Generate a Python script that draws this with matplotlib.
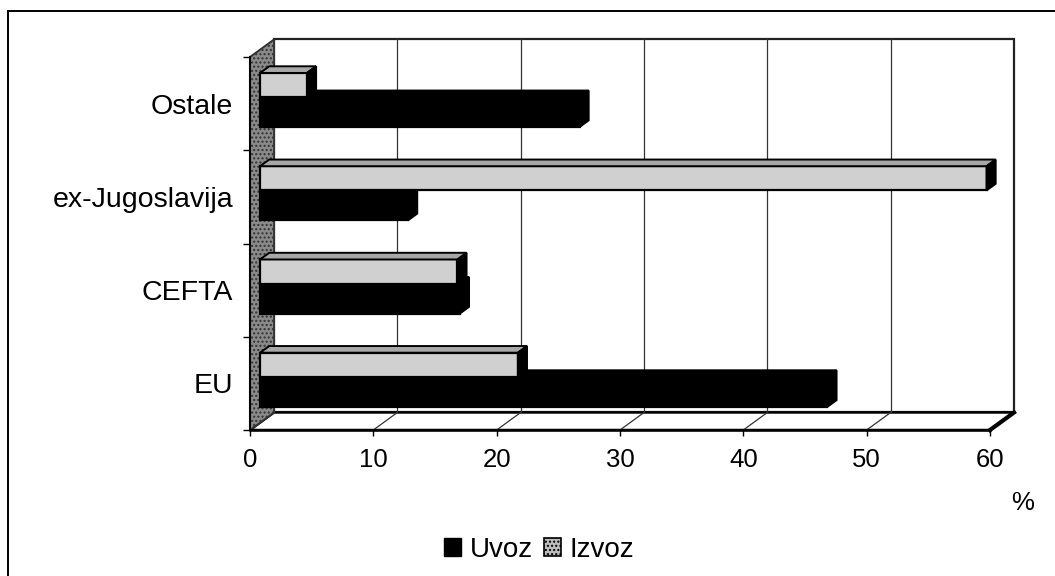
import matplotlib
matplotlib.use("Agg")
import matplotlib.pyplot as plt
from matplotlib.patches import Polygon, Rectangle
import numpy as np

plt.rcParams['font.family'] = ['Liberation Sans', 'DejaVu Sans']

categories = ["EU", "CEFTA", "ex-Jugoslavija", "Ostale"]
uvoz = [46.0, 16.2, 12.0, 25.9]
izvoz = [20.9, 16.0, 58.9, 3.8]
xticks = [0, 10, 20, 30, 40, 50, 60]
series_names = ["Uvoz", "Izvoz"]

W, H = 1055, 576
fig = plt.figure(figsize=(W / 100, H / 100), dpi=100)
ax = fig.add_axes([250 / W, 146 / H, 740 / W, 373 / H])
ax.set_xlim(0, 60)
ax.set_ylim(-0.5, 3.5)

# depth offsets (full depth) in data units
DX = 1.95
DY = 0.188
Z0, Z1 = 0.42, 0.80

def P(x, y, z):
    return (x + z * DX, y + z * DY)

wall_grey = '#8a8a8a'
light = '#d0d0d0'
light_top = '#a8a8a8'

# back wall
ax.add_patch(Polygon([P(0, -0.5, 1), P(60, -0.5, 1), P(60, 3.5, 1), P(0, 3.5, 1)],
                     closed=True, facecolor='white', edgecolor='#222222', lw=1.6,
                     clip_on=False, zorder=1))
# floor
ax.add_patch(Polygon([P(0, -0.5, 0), P(60, -0.5, 0), P(60, -0.5, 1), P(0, -0.5, 1)],
                     closed=True, facecolor='white', edgecolor='black', lw=1.8,
                     clip_on=False, zorder=1))
# gridlines on back wall and floor
for t in xticks[1:-1]:
    x0, y0 = P(t, -0.5, 1)
    x1, y1 = P(t, 3.5, 1)
    ax.plot([x0, x1], [y0, y1], color='#333333', lw=0.9, clip_on=False, zorder=1.5)
    fx0, fy0 = P(t, -0.5, 0)
    ax.plot([fx0, x0], [fy0, y0], color='#333333', lw=0.9, clip_on=False, zorder=1.5)
# right floor edge thick
rx0, ry0 = P(60, -0.5, 0)
rx1, ry1 = P(60, -0.5, 1)
ax.plot([rx0, rx1], [ry0, ry1], color='black', lw=3, clip_on=False, zorder=1.6)

# left wall
ax.add_patch(Polygon([P(0, -0.5, 0), P(0, 3.5, 0), P(0, 3.5, 1), P(0, -0.5, 1)],
                     closed=True, facecolor=wall_grey, edgecolor='#333333', lw=1.4,
                     hatch='....', clip_on=False, zorder=2))

yc = np.arange(len(categories))

def draw_bar(values, bottoms, heights, front, top, side, zo):
    lefts = [Z0 * DX] * len(values)
    ax.barh(np.array(bottoms) + Z0 * DY, values, height=heights, left=lefts,
            align='edge', color=front, edgecolor='black', linewidth=1.6,
            clip_on=False, zorder=zo)
    for v, b, h in zip(values, bottoms, heights):
        t = b + h
        ax.add_patch(Polygon([P(0, t, Z0), P(v, t, Z0), P(v, t, Z1), P(0, t, Z1)],
                             closed=True, facecolor=top, edgecolor='black', lw=1.4,
                             clip_on=False, zorder=zo))
        ax.add_patch(Polygon([P(v, b, Z0), P(v, t, Z0), P(v, t, Z1), P(v, b, Z1)],
                             closed=True, facecolor=side, edgecolor='black', lw=1.4,
                             clip_on=False, zorder=zo))

for i in range(len(categories)):
    zo = 3 + (len(categories) - i) * 2
    draw_bar([uvoz[i]], [yc[i] - 0.33], [0.32], 'black', 'black', 'black', zo)
    draw_bar([izvoz[i]], [yc[i] - 0.01], [0.26], light, light_top, 'black', zo + 1)

# axes styling
for s in ['top', 'right']:
    ax.spines[s].set_visible(False)
ax.spines['left'].set_linewidth(1.5)
ax.spines['bottom'].set_linewidth(1.8)
ax.spines['left'].set_zorder(20)
ax.spines['bottom'].set_zorder(20)
ax.patch.set_visible(False)

ax.set_xticks(xticks)
ax.set_xticklabels([str(t) for t in xticks], fontsize=18.5)
ax.tick_params(axis='x', length=4, width=1, pad=9, direction='out')
ax.set_yticks(yc)
ax.set_yticklabels(categories, fontsize=20.5)
ax.tick_params(axis='y', which='major', length=0, pad=12)
ax.set_yticks(np.arange(-0.5, 4.0, 1.0), minor=True)
ax.tick_params(axis='y', which='minor', length=5, width=1)

fig.text(1023 / W, 1 - 503 / H, '%', fontsize=18.5, ha='center', va='center')

# legend
h1 = Rectangle((0, 0), 1, 1, facecolor='black', edgecolor='black')
h2 = Rectangle((0, 0), 1, 1, facecolor='#bdbdbd', edgecolor='black', hatch='....', lw=1.2)
fig.legend([h1, h2], series_names, loc='center', bbox_to_anchor=(539 / W, 1 - 550 / H),
           ncol=2, frameon=False, fontsize=20, handlelength=0.62, handleheight=0.62,
           handletextpad=0.3, columnspacing=0.4, borderaxespad=0)

# outer frame (only left and top visible in the reference)
fig.add_artist(Rectangle((8 / W, -0.2), 1.5, 1.2 - 11 / H, transform=fig.transFigure,
                         fill=False, edgecolor='black', lw=1.4))

fig.savefig('out.png', dpi=100)
